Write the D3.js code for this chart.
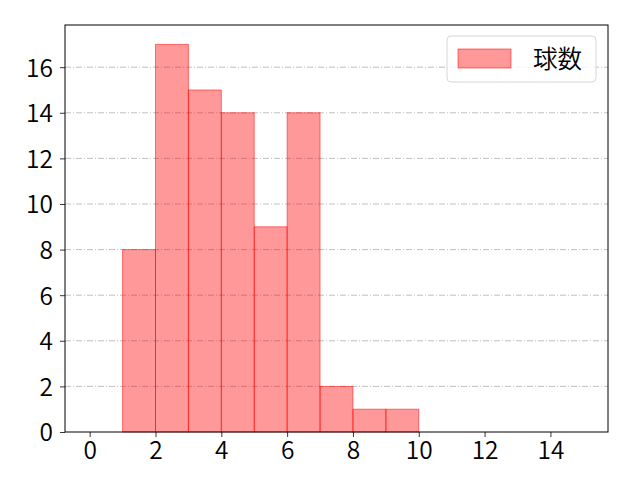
<!DOCTYPE html>
<html>
<head>
<meta charset="utf-8">
<script src="https://cdn.jsdelivr.net/npm/d3@7"></script>
<style>
  body { margin: 0; background: #fff; }
  text { font-family: "Noto Sans CJK JP", "Noto Sans", sans-serif; font-weight: 350; }
</style>
</head>
<body>
<div id="chart"></div>
<script>
// histogram bins (left edge, right edge) and counts
const binStarts = [1, 2, 3, 4, 5, 6, 7, 8, 9];
const binEnds = [2, 3, 4, 5, 6, 7, 8, 9, 10];
const counts = [8, 17, 15, 14, 9, 14, 2, 1, 1];
const xTicks = [0, 2, 4, 6, 8, 10, 12, 14];
const yTicks = [0, 2, 4, 6, 8, 10, 12, 14, 16];
const seriesName = '球数';

const width = 640, height = 480;
const margin = { left: 65, right: 32, top: 25, bottom: 48 };

const svg = d3.select('#chart').append('svg')
  .attr('width', width)
  .attr('height', height);

const x = d3.scaleLinear().domain([-0.75, 15.75]).range([margin.left, width - margin.right]);
const y = d3.scaleLinear().domain([0, 17.85]).range([height - margin.bottom, margin.top]);

// grid lines (horizontal, dash-dot)
svg.append('g')
  .selectAll('line')
  .data(yTicks.filter(d => d > 0))
  .join('line')
  .attr('x1', x.range()[0])
  .attr('x2', x.range()[1])
  .attr('y1', d => y(d))
  .attr('y2', d => y(d))
  .attr('stroke', '#b0b0b0')
  .attr('stroke-width', 0.8)
  .attr('stroke-dasharray', '6,2,1,2');

// bars
const bins = binStarts.map((s, i) => ({ x0: s, x1: binEnds[i], n: counts[i] }));
svg.append('g')
  .selectAll('rect')
  .data(bins)
  .join('rect')
  .attr('x', d => x(d.x0))
  .attr('width', d => x(d.x1) - x(d.x0))
  .attr('y', d => y(d.n))
  .attr('height', d => y(0) - y(d.n))
  .attr('fill', 'rgba(255,0,0,0.4)')
  .attr('stroke', 'rgba(255,0,0,0.5)')
  .attr('stroke-width', 1);

// axes
const xAxis = svg.append('g')
  .attr('transform', `translate(0,${height - margin.bottom})`)
  .call(d3.axisBottom(x).tickValues(xTicks).tickSize(5).tickPadding(5).tickFormat(d3.format('d')));
const yAxis = svg.append('g')
  .attr('transform', `translate(${margin.left},0)`)
  .call(d3.axisLeft(y).tickValues(yTicks).tickSize(5).tickPadding(7).tickFormat(d3.format('d')));

[xAxis, yAxis].forEach(a => {
  a.select('.domain').remove();
  a.selectAll('.tick line').attr('stroke', '#000').attr('stroke-width', 0.8);
  a.selectAll('.tick text').attr('fill', '#000').style('font-size', '24.5px');
});
yAxis.selectAll('.tick text').attr('dy', '0.36em');

// frame
svg.append('rect')
  .attr('x', margin.left)
  .attr('y', margin.top)
  .attr('width', width - margin.left - margin.right)
  .attr('height', height - margin.top - margin.bottom)
  .attr('fill', 'none')
  .attr('stroke', '#000')
  .attr('stroke-width', 1);

// legend
const legend = svg.append('g').attr('transform', 'translate(447,36)');
legend.append('rect')
  .attr('width', 149).attr('height', 46)
  .attr('rx', 4)
  .attr('fill', 'rgba(255,255,255,0.8)')
  .attr('stroke', '#d6d6d6');
legend.append('rect')
  .attr('x', 11).attr('y', 13)
  .attr('width', 53).attr('height', 19)
  .attr('fill', 'rgba(255,0,0,0.4)')
  .attr('stroke', 'rgba(255,0,0,0.5)');
legend.append('text')
  .attr('x', 86).attr('y', 32)
  .style('font-size', '24.5px')
  .text(seriesName);
</script>
</body>
</html>
